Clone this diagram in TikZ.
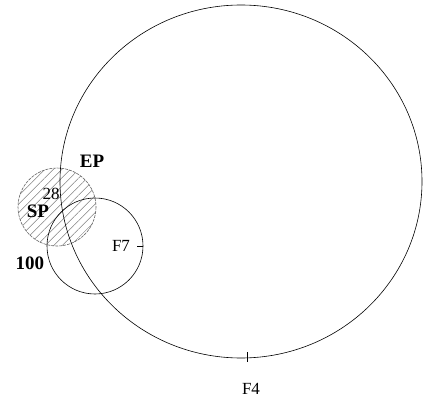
\documentclass[tikz,border=0pt]{standalone}
\usepackage{fontspec}
\setmainfont{Liberation Serif}
\usetikzlibrary{patterns.meta}
\begin{document}
\begin{tikzpicture}[x=1pt,y=-1pt,line width=0.6pt]
\useasboundingbox (0,0) rectangle (423,401);
\tikzset{lbl/.style={font=\fontsize{17}{17}\selectfont,inner sep=0pt},
  blbl/.style={lbl,font=\fontsize{19}{19}\selectfont\bfseries}}
\fill[pattern={Lines[angle=45,distance=6pt,line width=0.5pt]},pattern color=gray] (57,207) circle (39);
\draw[gray!80!black,dash pattern=on 3pt off 1pt] (57,207) circle (39);
\draw (95,246) circle (48);
\draw (241,181.5) ellipse (181 and 176.5);
\draw (143,246) -- (137,246);
\draw (247,352) -- (247,362);
\node[blbl] (ep) at (92,161) {EP};
\node[lbl] (n28) at (51,194) {28};
\node[blbl] (sp) at (38,211) {SP};
\node[blbl] (n100) at (30,263) {100};
\node[lbl] (f7) at (121,246) {F7};
\node[lbl] (f4) at (251,389) {F4};
\end{tikzpicture}
\end{document}
